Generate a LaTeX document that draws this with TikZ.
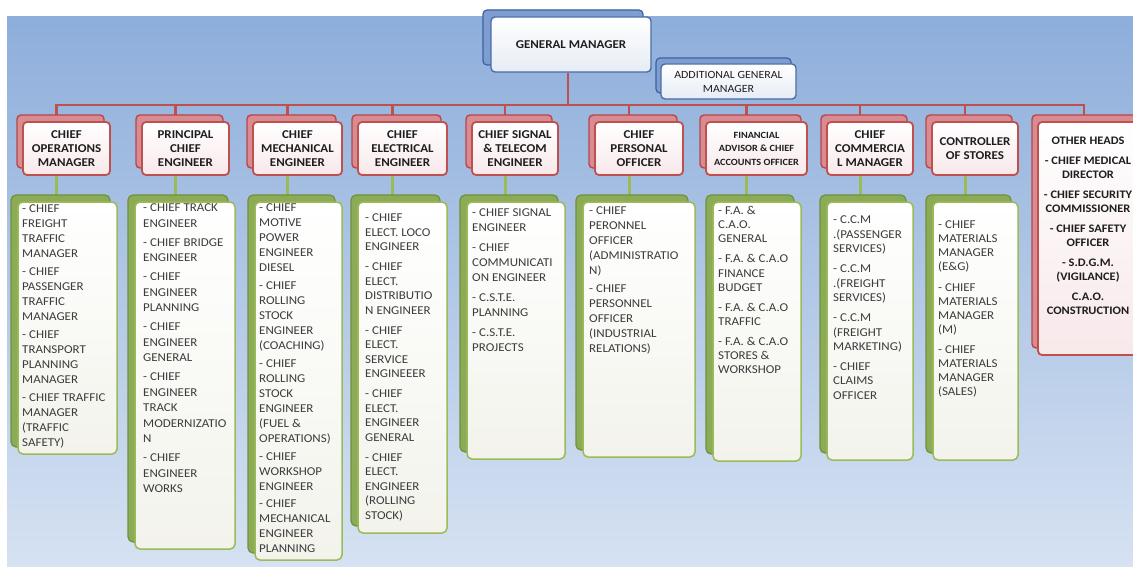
\documentclass[tikz,border=0pt]{standalone}
\usepackage{fontspec}
\setmainfont{Carlito}[FakeStretch=1.08]
\usetikzlibrary{shadows,calc}
\pgfdeclarelayer{bg}
\pgfdeclarelayer{links}
\pgfsetlayers{bg,links,main}

\definecolor{bgtop}{HTML}{8EAEDB}
\definecolor{bgbot}{HTML}{D6E2F2}
\definecolor{gmedge}{HTML}{4A6DA6}
\definecolor{gmback}{HTML}{7E9ED1}
\definecolor{gmbackedge}{HTML}{3E609C}
\definecolor{gmlow}{HTML}{E6ECF5}
\definecolor{rededge}{HTML}{C0504D}
\definecolor{redback}{HTML}{D98B92}
\definecolor{redbackedge}{HTML}{B5464C}
\definecolor{pinklow}{HTML}{F8E8EA}
\definecolor{greenedge}{HTML}{9BBB59}
\definecolor{greenback}{HTML}{8CAB57}
\definecolor{greenbackedge}{HTML}{71903A}
\definecolor{paper}{HTML}{F3F3EC}
\definecolor{headink}{HTML}{1E1E1E}
\definecolor{listink}{HTML}{3C3C3C}
\definecolor{busred}{HTML}{C0504D}
\definecolor{stemgreen}{HTML}{9BBB59}

\tikzset{
  bluecard/.style={draw=gmedge, line width=1.4pt, rounded corners=4pt,
    top color=white, bottom color=gmlow,
    align=center, text=headink, inner sep=2pt},
  gmbox/.style={bluecard,
    copy shadow={shadow xshift=-8pt, shadow yshift=7pt, fill=gmback,
      draw=gmbackedge, line width=1.2pt},
    font=\bfseries\fontsize{12}{14}\selectfont},
  agmbox/.style={bluecard,
    copy shadow={shadow xshift=-5pt, shadow yshift=6pt, fill=gmback,
      draw=gmbackedge, line width=1.2pt},
    font=\fontsize{11}{14}\selectfont},
  headbox/.style={draw=rededge, line width=1.8pt, rounded corners=4pt,
    top color=white, bottom color=pinklow,
    copy shadow={shadow xshift=-6pt, shadow yshift=7pt, fill=redback,
      draw=redbackedge, line width=1.4pt},
    minimum height=53pt, align=center, text=headink, inner sep=2pt,
    font=\bfseries\fontsize{12}{14}\selectfont},
  subbox/.style={draw=greenedge, line width=1.5pt, rounded corners=5pt,
    top color=white, bottom color=paper,
    copy shadow={shadow xshift=-7pt, shadow yshift=7pt, fill=greenback,
      draw=greenbackedge, line width=1.2pt}},
  listtext/.style={anchor=north west, inner sep=0pt, align=left, text=listink},
  busline/.style={draw=busred, line width=2.5pt, line join=miter},
  stemline/.style={draw=stemgreen, line width=3pt},
}

\begin{document}
\begin{tikzpicture}[x=1pt,y=-1pt]
\useasboundingbox (0,0) rectangle (1133,567);

\begin{pgfonlayer}{bg}
  \fill[white] (0,0) rectangle (1133,567);
  \shade[top color=bgtop, bottom color=bgbot] (7,17) rectangle (1133,567);
\end{pgfonlayer}

% top management
\node[gmbox, minimum width=160pt, minimum height=55pt] (gm) at (571,44.5) {GENERAL MANAGER};
\node[agmbox, minimum width=135pt, minimum height=35pt] (agm) at (728.5,81.5) {ADDITIONAL GENERAL\\MANAGER};

% heads of departments
\node[headbox, minimum width=87pt] (h1) at (66.5,148.5) {CHIEF\\OPERATIONS\\MANAGER};
\node[headbox, minimum width=87pt] (h2) at (185.5,148.5) {PRINCIPAL\\CHIEF\\ENGINEER};
\node[headbox, minimum width=89pt] (h3) at (297.5,148.5) {CHIEF\\MECHANICAL\\ENGINEER};
\node[headbox, minimum width=89pt] (h4) at (402.5,148.5) {CHIEF\\ELECTRICAL\\ENGINEER};
\node[headbox, minimum width=86pt] (h5) at (515,148.5) {CHIEF SIGNAL\\\& TELECOM\\ENGINEER};
\node[headbox, minimum width=88pt] (h6) at (639,148.5) {CHIEF\\PERSONAL\\OFFICER};
\node[headbox, minimum width=101pt, font=\bfseries\fontsize{9.5}{13.5}\selectfont] (h7) at (756.5,148.5)
  {FINANCIAL\\ADVISOR \& CHIEF\\ACCOUNTS OFFICER};
\node[headbox, minimum width=86pt] (h8) at (870,148.5) {CHIEF\\COMMERCIA\\L MANAGER};
\node[headbox, minimum width=86pt] (h9) at (975,148.5) {CONTROLLER\\OF STORES};
\node[headbox, minimum width=112pt, minimum height=233pt] (h10) at (1094,238.5) {};
\node[anchor=north, inner sep=0pt, align=center, text=headink,
      font=\bfseries\fontsize{11.5}{14}\selectfont] (oth) at (1088,137)
  {OTHER HEADS\\[6pt]- CHIEF MEDICAL\\DIRECTOR\\[6pt]- CHIEF SECURITY\\COMMISSIONER\\[6pt]%
   - CHIEF SAFETY\\OFFICER\\[6pt]- S.D.G.M.\\(VIGILANCE)\\[6pt]C.A.O.\\CONSTRUCTION};

% subordinate lists
\node[subbox, minimum width=99pt,  minimum height=252pt] (s1) at (67.5,328) {};
\node[subbox, minimum width=100pt, minimum height=347pt] (s2) at (185,375.5) {};
\node[subbox, minimum width=87pt,  minimum height=358pt] (s3) at (298.5,381) {};
\node[subbox, minimum width=89pt,  minimum height=331pt] (s4) at (402.5,367.5) {};
\node[subbox, minimum width=98pt,  minimum height=257pt] (s5) at (516,330.5) {};
\node[subbox, minimum width=112pt, minimum height=255pt] (s6) at (639,329.5) {};
\node[subbox, minimum width=88pt,  minimum height=259pt] (s7) at (757,331.5) {};
\node[subbox, minimum width=86pt,  minimum height=258pt] (s8) at (870,331) {};
\node[subbox, minimum width=85pt,  minimum height=258pt] (s9) at (975.5,331) {};

\node[listtext, font=\fontsize{12}{15}\selectfont] (t1) at (22,205)
  {- CHIEF\\FREIGHT\\TRAFFIC\\MANAGER\\[3pt]- CHIEF\\PASSENGER\\TRAFFIC\\MANAGER\\[3pt]%
   - CHIEF\\TRANSPORT\\PLANNING\\MANAGER\\[3pt]- CHIEF TRAFFIC\\MANAGER\\(TRAFFIC\\SAFETY)};
\node[listtext, font=\fontsize{12}{15.5}\selectfont] (t2) at (143,204)
  {- CHIEF TRACK\\ENGINEER\\[3.5pt]- CHIEF BRIDGE\\ENGINEER\\[3.5pt]- CHIEF\\ENGINEER\\PLANNING\\[3.5pt]%
   - CHIEF\\ENGINEER\\GENERAL\\[3.5pt]- CHIEF\\ENGINEER\\TRACK\\MODERNIZATIO\\N\\[3.5pt]%
   - CHIEF\\ENGINEER\\WORKS};
\node[listtext, font=\fontsize{12}{15}\selectfont] (t3) at (259,204)
  {- CHIEF\\MOTIVE\\POWER\\ENGINEER\\DIESEL\\[2.7pt]- CHIEF\\ROLLING\\STOCK\\ENGINEER\\(COACHING)\\[2.7pt]%
   - CHIEF\\ROLLING\\STOCK\\ENGINEER\\(FUEL \&\\OPERATIONS)\\[2.7pt]- CHIEF\\WORKSHOP\\ENGINEER\\[2.7pt]%
   - CHIEF\\MECHANICAL\\ENGINEER\\PLANNING};
\node[listtext, font=\fontsize{12}{14.5}\selectfont] (t4) at (365,214)
  {- CHIEF\\ELECT. LOCO\\ENGINEER\\[5.5pt]- CHIEF\\ELECT.\\DISTRIBUTIO\\N ENGINEER\\[5.5pt]%
   - CHIEF\\ELECT.\\SERVICE\\ENGINEEER\\[5.5pt]- CHIEF\\ELECT.\\ENGINEER\\GENERAL\\[5.5pt]%
   - CHIEF\\ELECT.\\ENGINEER\\(ROLLING\\STOCK)};
\node[listtext, font=\fontsize{12}{15}\selectfont] (t5) at (472,209)
  {- CHIEF SIGNAL\\ENGINEER\\[5pt]- CHIEF\\COMMUNICATI\\ON ENGINEER\\[5pt]- C.S.T.E.\\PLANNING\\[5pt]%
   - C.S.T.E.\\PROJECTS};
\node[listtext, font=\fontsize{12}{15}\selectfont] (t6) at (589,207)
  {- CHIEF\\PERONNEL\\OFFICER\\(ADMINISTRATIO\\N)\\[3pt]- CHIEF\\PERSONNEL\\OFFICER\\(INDUSTRIAL\\RELATIONS)};
\node[listtext, font=\fontsize{12}{14.3}\selectfont] (t7) at (718,206)
  {- F.A. \&\\C.A.O.\\GENERAL\\[5.5pt]- F.A. \& C.A.O\\FINANCE\\BUDGET\\[5.5pt]- F.A. \& C.A.O\\TRAFFIC\\[5.5pt]%
   - F.A. \& C.A.O\\STORES \&\\WORKSHOP};
\node[listtext, font=\fontsize{12}{14.3}\selectfont] (t8) at (833,216)
  {- C.C.M\\.(PASSENGER\\SERVICES)\\[6pt]- C.C.M\\.(FREIGHT\\SERVICES)\\[6pt]- C.C.M\\(FREIGHT\\MARKETING)\\[6pt]%
   - CHIEF\\CLAIMS\\OFFICER};
\node[listtext, font=\fontsize{12}{14}\selectfont] (t9) at (938,221)
  {- CHIEF\\MATERIALS\\MANAGER\\(E\&G)\\[6.5pt]- CHIEF\\MATERIALS\\MANAGER\\(M)\\[6.5pt]%
   - CHIEF\\MATERIALS\\MANAGER\\(SALES)};

% connectors
\begin{pgfonlayer}{links}
  \coordinate (bus) at (0,105);
  \coordinate (gmfoot) at ($(gm.south)+(-3,0)$);
  \foreach \i in {1,...,10} {
    \coordinate (d\i) at ($(h\i.north)+(-10,0)$);
  }
  \draw[busline] (gmfoot) -- (gmfoot |- bus);
  \draw[busline] (d1) -- (d1 |- bus) -- (d10 |- bus) -- (d10);
  \foreach \i in {2,...,9} {
    \draw[busline] (d\i |- bus) -- (d\i);
  }
  \foreach \i in {1,...,9} {
    \coordinate (f\i) at ($(h\i.south)+(-10,0)$);
    \draw[stemline] (f\i) -- (f\i |- s\i.north);
  }
\end{pgfonlayer}
\end{tikzpicture}
\end{document}
